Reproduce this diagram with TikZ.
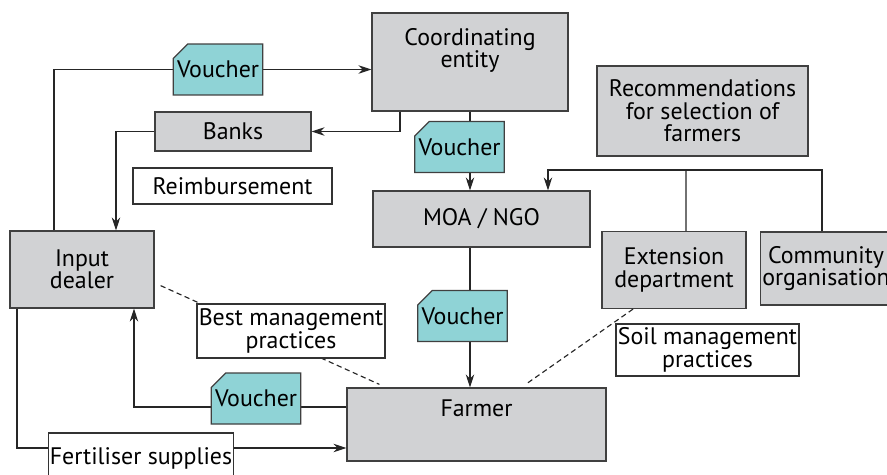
\documentclass[tikz,border=0pt]{standalone}
\usepackage{fontspec}
\setmainfont{PT Sans}
\usetikzlibrary{shapes.misc,arrows.meta,calc}
\definecolor{boxgray}{RGB}{209,210,212}
\definecolor{vouchercyan}{RGB}{143,211,214}

\begin{document}
\begin{tikzpicture}[
    x=0.02cm, y=-0.02cm,
    font=\fontsize{13.6}{12.8}\selectfont,
    box/.style={draw=black!75, line width=0.7pt, fill=boxgray, align=center, inner sep=1pt},
    note/.style={draw=black!80, line width=0.6pt, fill=white, align=center, inner sep=1pt},
    voucher/.style={chamfered rectangle, chamfered rectangle corners=north west,
        chamfered rectangle xsep=0.18cm, chamfered rectangle ysep=0.11cm,
        draw=black!75, line width=0.7pt, fill=vouchercyan, inner xsep=-3pt, inner ysep=1pt,
        minimum width=1.6cm, minimum height=1.02cm},
    line/.style={line width=0.65pt, black!85},
    arrow/.style={line, -{Stealth[length=0.26cm,width=0.17cm]}},
    dashline/.style={line, dash pattern=on 3pt off 2pt}
]
\useasboundingbox (0,0) rectangle (887,474);

% Main boxes
\node[box, minimum width=3.92cm, minimum height=1.96cm] (coord) at (470,62) {Coordinating\\entity\\[3pt]};
\node[box, minimum width=4.22cm, minimum height=1.8cm] (recom) at (702.5,111) {Recommendations\\for selection of\\farmers};
\node[box, minimum width=3.12cm, minimum height=0.78cm] (banks) at (233,131.5) {Banks};
\node[box, minimum width=2.88cm, minimum height=1.54cm] (dealer) at (82,269.5) {Input\\dealer};
\node[box, minimum width=4.34cm, minimum height=1.12cm] (moa) at (481.5,219) {MOA / NGO};
\node[box, minimum width=2.88cm, minimum height=1.54cm] (ext) at (674,270) {Extension\\department};
\node[box, minimum width=2.6cm, minimum height=1.46cm] (comm) at (826,268.5) {Community\\organisation};
\node[box, minimum width=5.18cm, minimum height=1.46cm] (farmer) at (476.5,424.5) {Farmer\\[6pt]};

% Labels
\node[note, minimum width=3.98cm, minimum height=0.72cm] (reimb) at (232.5,186) {Reimbursement};
\node[note, minimum width=3.66cm, minimum height=1.04cm] (soil) at (707.5,350) {Soil management\\practices};

% Connectors
\draw[line] ([xshift=-0.56cm]dealer.north) |- (218,69.5) coordinate (vAin);
\draw[arrow] (vAin) -- (coord.west |- vAin);
\draw[arrow] ([xshift=-1.4cm]coord.south) |- (banks.east);
\draw[arrow] (banks.west) -| ([xshift=0.68cm]dealer.north);
\draw[arrow] (coord.south) -- (coord.south |- moa.north);
\coordinate (split) at (686,170);
\draw[line] ([xshift=0.24cm]ext.north) -- (split);
\draw[arrow] ([xshift=-0.08cm]comm.north) |- (split) -| ([xshift=1.33cm]moa.north);
\draw[arrow] (coord.south |- moa.south) -- (coord.south |- farmer.north);
\draw[arrow] ([yshift=0.35cm]farmer.west) -| ([xshift=1.04cm]dealer.south);
\draw[arrow] ([xshift=-1.3cm]dealer.south) |- ([yshift=-0.47cm]farmer.west);
\draw[dashline] ($(dealer.south east)+(6,-23)$) -- ($(farmer.north west)+(33,-3)$);
\draw[dashline] ([xshift=-0.82cm]ext.south) -- ($(farmer.north)+(50.5,-4)$);

% Vouchers and labels on the lines
\node[voucher] (vA) at (218,69.5) {Voucher};
\node[voucher] (vB) at (459.5,147) {Voucher};
\node[voucher] (vC) at (462.5,316) {Voucher};
\node[voucher] (vD) at (256,398.5) {Voucher};
\node[note, minimum width=3.76cm, minimum height=1.08cm] (best) at (291,331) {Best management\\practices};
\node[note, minimum width=3.64cm, minimum height=1cm] (fert) at (141,458) {Fertiliser supplies};

\end{tikzpicture}
\end{document}
